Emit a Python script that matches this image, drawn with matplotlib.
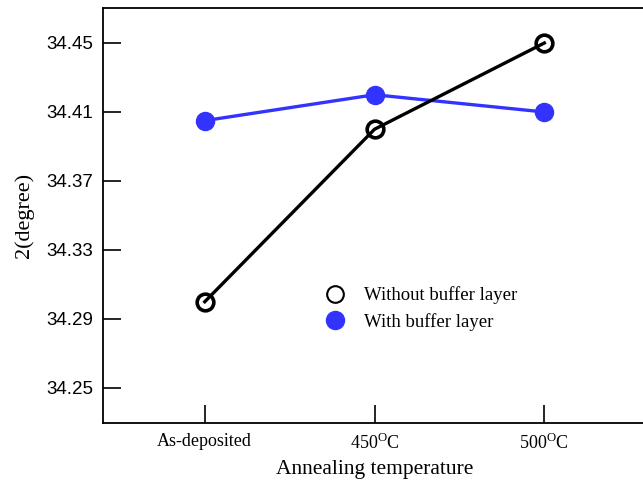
import matplotlib
matplotlib.use("Agg")
import matplotlib.pyplot as plt

# =========================
# DATA
# =========================
categories = ["As-deposited", r"450$^{\mathrm{O}}$C", r"500$^{\mathrm{O}}$C"]
without_buffer = [34.30, 34.40, 34.45]
with_buffer = [34.405, 34.42, 34.41]
yticks = [34.25, 34.29, 34.33, 34.37, 34.41, 34.45]

plt.rcParams["mathtext.fontset"] = "custom"
plt.rcParams["mathtext.rm"] = "Liberation Serif"

serif = "Liberation Serif"
sans = "Liberation Sans"

# =========================
# PLOT
# =========================
fig = plt.figure(figsize=(6.43, 4.86), dpi=100)
ax = fig.add_axes([0.160, 0.1296, 0.845, 0.854])

x = list(range(len(categories)))
ax.plot(x, with_buffer, color="#3333ff", lw=2.4, marker="o", ms=13,
        mfc="#3333ff", mec="#3333ff", label="With buffer layer", zorder=2)
ax.plot(x, without_buffer, color="black", lw=2.4, marker="o", ms=12,
        mfc="none", mew=2.6, mec="black", label="Without buffer layer", zorder=3)

ax.set_xlim(-0.6, 2.6)
ax.set_ylim(34.2297, 34.4703)
ax.set_xticks(x)
ax.set_xticklabels(categories, family=serif, fontsize=13)
ax.set_yticks(yticks)
ax.set_yticklabels([f"{v:.2f}" for v in yticks], family=sans, fontsize=13.5)
ax.tick_params(direction="in", length=13, width=1.2, pad=7)
ax.tick_params(axis="x", pad=7)

for s in ["left", "bottom", "top"]:
    ax.spines[s].set_linewidth(1.3)
ax.spines["right"].set_visible(False)

ax.set_xlabel("Annealing temperature", family=serif, fontsize=15.5, labelpad=5)
ax.set_ylabel("2(degree)", family=serif, fontsize=16, labelpad=9)

# legend with markers only, no frame
h1 = plt.Line2D([], [], ls="none", marker="o", ms=12, mfc="none", mec="black", mew=1.5)
h2 = plt.Line2D([], [], ls="none", marker="o", ms=13, mfc="#3333ff", mec="#3333ff")
leg = ax.legend([h1, h2], ["Without buffer layer", "With buffer layer"],
                loc="upper left", bbox_to_anchor=(0.37, 0.37), frameon=False,
                prop={"family": serif, "size": 13.5}, handletextpad=0.8,
                labelspacing=0.45, handlelength=1.5)

fig.savefig("out.png", dpi=100)
